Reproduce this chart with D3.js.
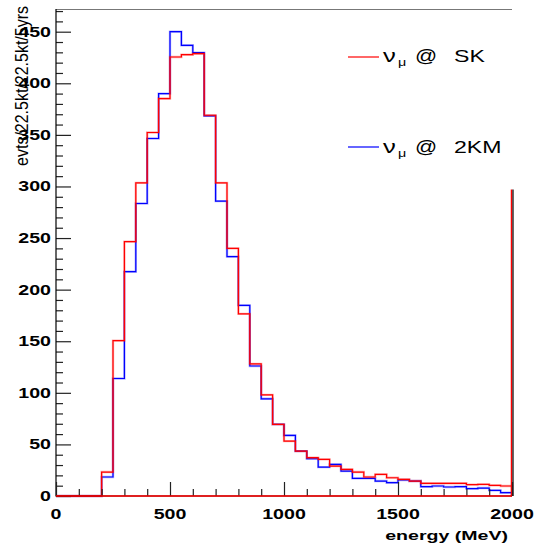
<!DOCTYPE html>
<html>
<head>
<meta charset="utf-8">
<script src="https://cdn.jsdelivr.net/npm/d3@7"></script>
<style>
  html, body { margin: 0; padding: 0; background: #fff; }
  svg { display: block; }
  text { font-family: "Liberation Sans", Arial, Helvetica, sans-serif; fill: #000; }
</style>
</head>
<body>
<svg id="chart" width="535" height="547"></svg>
<script>
// ---- data ----
const binStarts = [0,50,100,150,200,250,300,350,400,450,500,550,600,650,700,750,800,850,900,950,
                   1000,1050,1100,1150,1200,1250,1300,1350,1400,1450,1500,1550,1600,1650,1700,1750,1800,1850,1900,1950];
const binWidth = 50;
const sk = [0,0,0,0,23.2,150.6,246.5,303.5,352.3,385.2,425.5,427.7,428.7,369,303.5,240,176.5,128,98,69.4,
            53.2,43.5,37.1,35.5,29,25.8,23.2,18.4,21,17.7,16.1,14.5,12.3,12.3,12.3,12.3,11,11.3,10.3,9.7];
const km2 = [0,0,0,0,18.4,113.9,217.4,283.5,346.5,390,450,436.8,429.7,368.4,285.8,232,184.8,126,94.2,69.4,
             58.7,43.5,36.1,28,30.6,24.2,17.1,17.1,14.5,12.9,15.5,14.5,9,9.7,8.7,9,7.1,7.7,5.5,3.2];
const edgeLineValue = 297;   // tall vertical line at the right edge (x = 2000)
const xTicks = [0,500,1000,1500,2000];
const yTicks = [0,50,100,150,200,250,300,350,400,450];
const xDomain = [0, 2000];
const yDomain = [0, 472];
const series = [
  { name: "2KM", values: km2, color: "#0000ff" },
  { name: "SK",  values: sk,  color: "#ff0000" }
];

// ---- layout ----
const svg = d3.select("#chart");
const L = 56, R = 512, T = 9, B = 496;
const x = d3.scaleLinear().domain(xDomain).range([L, R]);
const y = d3.scaleLinear().domain(yDomain).range([B, T]);

// frame top line
svg.append("line").attr("x1", L).attr("x2", R).attr("y1", T + 0.5).attr("y2", T + 0.5)
  .attr("stroke", "#777").attr("stroke-width", 1.2);

// histograms
function stepPath(vals) {
  let p = `M${x(0)},${y(0)}`;
  binStarts.forEach((s, i) => {
    p += `L${x(s)},${y(vals[i])}L${x(s + binWidth)},${y(vals[i])}`;
  });
  p += `L${x(2000)},${y(0)}`;
  return p;
}
series.forEach(s => {
  svg.append("path").attr("d", stepPath(s.values)).attr("fill", "none")
    .attr("stroke", s.color).attr("stroke-opacity", 0.3).attr("stroke-width", 2.4);
  svg.append("path").attr("d", stepPath(s.values)).attr("fill", "none")
    .attr("stroke", s.color).attr("stroke-width", 1.2);
});

// right edge tall line
svg.append("line").attr("x1", x(2000) - 0.5).attr("x2", x(2000) - 0.5)
  .attr("y1", y(0)).attr("y2", y(edgeLineValue)).attr("stroke", "#ff0000").attr("stroke-width", 1.5);
svg.append("line").attr("x1", x(2000) + 1).attr("x2", x(2000) + 1)
  .attr("y1", y(0)).attr("y2", y(edgeLineValue)).attr("stroke", "#000").attr("stroke-width", 1.2);

// ---- axes ----
// y axis
const yAxis = d3.axisRight(y).tickValues(d3.range(0, 471, 10)).tickSize(0).tickFormat("");
const gy = svg.append("g").attr("transform", `translate(${L},0)`).call(yAxis);
gy.select(".domain").remove();
svg.append("line").attr("x1", L).attr("x2", L).attr("y1", T).attr("y2", B + 0.5)
  .attr("stroke", "#000").attr("stroke-width", 1.2);
gy.selectAll(".tick line")
  .attr("x2", d => (d % 50 === 0 ? 15 : 7))
  .attr("stroke", "#222").attr("stroke-width", 1.2);

yTicks.forEach(v => {
  svg.append("g").attr("transform", `translate(51,${y(v) + 5}) scale(1.4,1)`)
    .append("text").attr("text-anchor", "end").attr("font-weight", "bold")
    .attr("font-size", 14).text(v);
});

// x axis
const xAxis = d3.axisTop(x).tickValues(d3.range(0, 2001, 100)).tickSize(0).tickFormat("");
const gx = svg.append("g").attr("transform", `translate(0,${B})`).call(xAxis);
gx.select(".domain").remove();
gx.selectAll(".tick line")
  .attr("y2", d => (d % 500 === 0 ? -14 : -7))
  .attr("stroke", "#222").attr("stroke-width", 1.2);
svg.append("line").attr("x1", L).attr("x2", R).attr("y1", B).attr("y2", B)
  .attr("stroke", "#000").attr("stroke-width", 1.2);
// red baseline of histogram over axis
svg.append("line").attr("x1", x(0)).attr("x2", x(2000)).attr("y1", B).attr("y2", B)
  .attr("stroke", "#ff0000").attr("stroke-width", 1.4);

xTicks.forEach(v => {
  svg.append("g").attr("transform", `translate(${x(v)},519) scale(1.4,1)`)
    .append("text").attr("text-anchor", "middle").attr("font-weight", "bold")
    .attr("font-size", 14).text(v);
});

// x title
svg.append("g").attr("transform", `translate(508,540) scale(1.45,1)`)
  .append("text").attr("text-anchor", "end").attr("font-weight", "bold")
  .attr("font-size", 13.5).text("energy (MeV)");

// y title
svg.append("text").attr("transform", "translate(28,6) scale(1.2,1) rotate(-90)")
  .attr("text-anchor", "end").attr("font-size", 16).text("evts/22.5kt/22.5kt/5yrs");

// ---- legend ----
const legend = [
  { label: "SK",  color: "#ff0000", ly: 57, base: 62 },
  { label: "2KM", color: "#0000ff", ly: 147, base: 153 }
];
legend.forEach(d => {
  svg.append("line").attr("x1", 348).attr("x2", 379).attr("y1", d.ly).attr("y2", d.ly)
    .attr("stroke", d.color).attr("stroke-width", 1.2);
  svg.append("g").attr("transform", `translate(383,${d.base}) scale(1.35,1)`)
    .append("text").attr("font-size", 19).text("ν");
  svg.append("g").attr("transform", `translate(398,${d.base + 4}) scale(1.3,1)`)
    .append("text").attr("font-size", 11).text("μ");
  svg.append("g").attr("transform", `translate(415,${d.base}) scale(1.25,1)`)
    .append("text").attr("font-size", 17.5).text("@");
  svg.append("g").attr("transform", `translate(454,${d.base}) scale(1.4,1)`)
    .append("text").attr("font-size", 16.5).text(d.label);
});
</script>
</body>
</html>
